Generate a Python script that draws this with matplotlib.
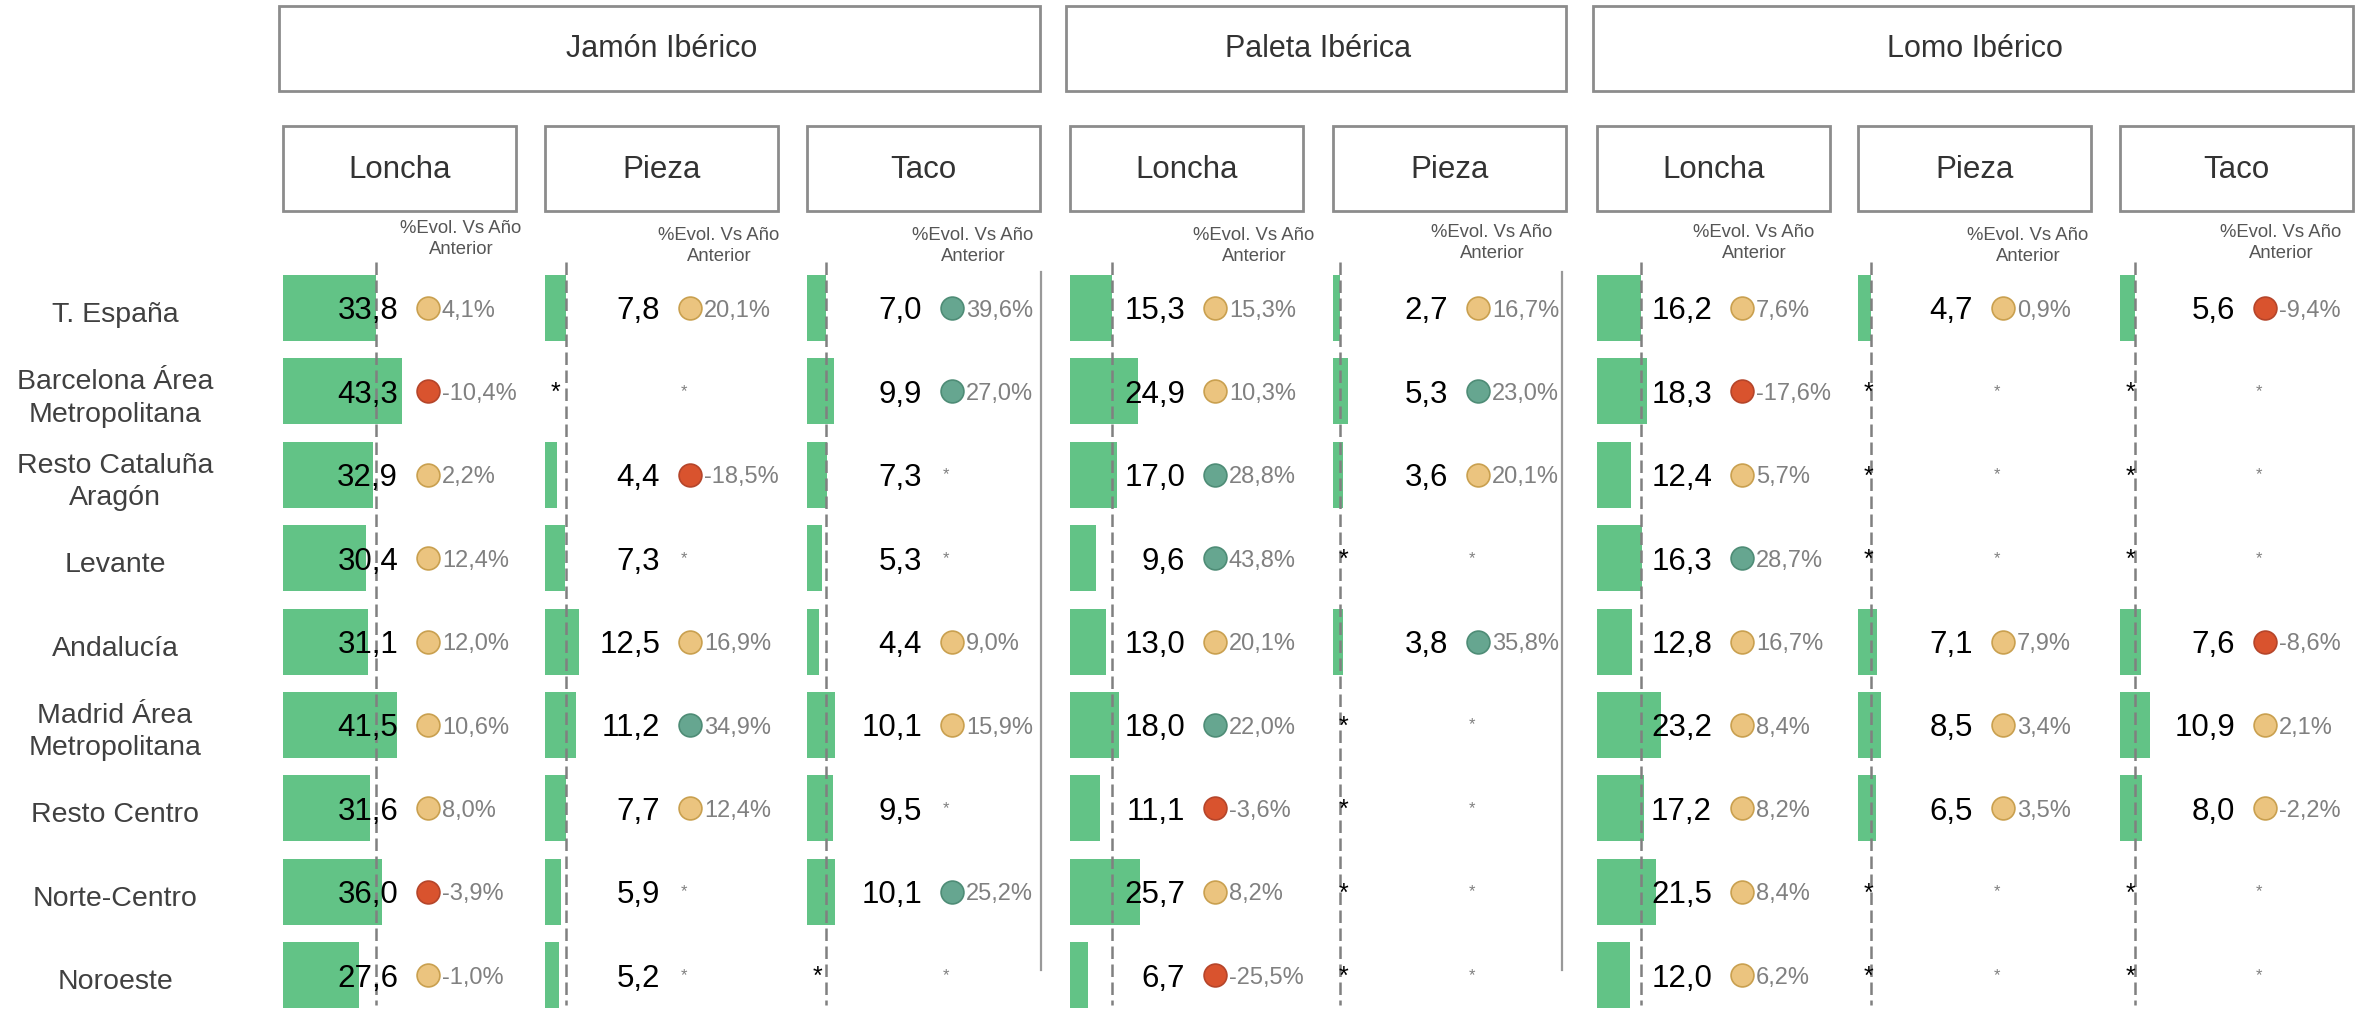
import matplotlib
matplotlib.use('Agg')
import matplotlib.pyplot as plt
from matplotlib.patches import Rectangle

plt.rcParams['font.family'] = ['Liberation Sans', 'DejaVu Sans']

# ---- datos ----
regiones = ['T. España', 'Barcelona Área\nMetropolitana', 'Resto Cataluña\nAragón',
            'Levante', 'Andalucía', 'Madrid Área\nMetropolitana', 'Resto Centro',
            'Norte-Centro', 'Noroeste']

productos = ['Jamón Ibérico', 'Paleta Ibérica', 'Lomo Ibérico']
formatos = [['Loncha', 'Pieza', 'Taco'], ['Loncha', 'Pieza'], ['Loncha', 'Pieza', 'Taco']]

N = None  # sin dato (*)
jamon_loncha = [33.8, 43.3, 32.9, 30.4, 31.1, 41.5, 31.6, 36.0, 27.6]
jamon_loncha_evol = [4.1, -10.4, 2.2, 12.4, 12.0, 10.6, 8.0, -3.9, -1.0]
jamon_pieza = [7.8, N, 4.4, 7.3, 12.5, 11.2, 7.7, 5.9, 5.2]
jamon_pieza_evol = [20.1, N, -18.5, N, 16.9, 34.9, 12.4, N, N]
jamon_taco = [7.0, 9.9, 7.3, 5.3, 4.4, 10.1, 9.5, 10.1, N]
jamon_taco_evol = [39.6, 27.0, N, N, 9.0, 15.9, N, 25.2, N]
paleta_loncha = [15.3, 24.9, 17.0, 9.6, 13.0, 18.0, 11.1, 25.7, 6.7]
paleta_loncha_evol = [15.3, 10.3, 28.8, 43.8, 20.1, 22.0, -3.6, 8.2, -25.5]
paleta_pieza = [2.7, 5.3, 3.6, N, 3.8, N, N, N, N]
paleta_pieza_evol = [16.7, 23.0, 20.1, N, 35.8, N, N, N, N]
lomo_loncha = [16.2, 18.3, 12.4, 16.3, 12.8, 23.2, 17.2, 21.5, 12.0]
lomo_loncha_evol = [7.6, -17.6, 5.7, 28.7, 16.7, 8.4, 8.2, 8.4, 6.2]
lomo_pieza = [4.7, N, N, N, 7.1, 8.5, 6.5, N, N]
lomo_pieza_evol = [0.9, N, N, N, 7.9, 3.4, 3.5, N, N]
lomo_taco = [5.6, N, N, N, 7.6, 10.9, 8.0, N, N]
lomo_taco_evol = [-9.4, N, N, N, -8.6, 2.1, -2.2, N, N]

columnas = [(jamon_loncha, jamon_loncha_evol), (jamon_pieza, jamon_pieza_evol),
            (jamon_taco, jamon_taco_evol), (paleta_loncha, paleta_loncha_evol),
            (paleta_pieza, paleta_pieza_evol), (lomo_loncha, lomo_loncha_evol),
            (lomo_pieza, lomo_pieza_evol), (lomo_taco, lomo_taco_evol)]

# ---- layout (pixeles) ----
W, H = 2369, 1018
col_left = [283, 545, 807, 1070, 1333, 1597, 1858, 2120]
col_w = 233
px_por_unidad = 2.74
row0, row_h = 308, 83.4
head_dx = [178, 174, 166, 184, 159, 157, 170, 161]
head_y = [239, 246, 246, 246, 243, 243, 246, 243]
sep_x = [1041, 1562]

VERDE = '#62c386'
GRIS = '#808080'
TEXTO = '#404040'


def color_evol(p):
    if p < -3:
        return '#d9532e', '#b5452a'
    if p > 21:
        return '#66a690', '#4e8c76'
    return '#ebc47f', '#c9a04f'


def fmt(v, suf=''):
    return f'{v:.1f}{suf}'.replace('.', ',')


fig = plt.figure(figsize=(W / 100, H / 100), dpi=100)
ax0 = fig.add_axes([0, 0, 1, 1])
ax0.set_xlim(0, W)
ax0.set_ylim(H, 0)
ax0.axis('off')

# cajas de cabecera
k = 0
for prod, fmts in zip(productos, formatos):
    x0 = col_left[k]
    x1 = col_left[k + len(fmts) - 1] + col_w
    ax0.add_patch(Rectangle((x0 - 4, 6), x1 - x0 + 4, 85, fill=False, ec='#8c8c8c', lw=2))
    ax0.text((x0 + x1) / 2, 49, prod, ha='center', va='center', fontsize=22, color='#333333')
    for f in fmts:
        xl = col_left[k]
        ax0.add_patch(Rectangle((xl, 126), col_w, 85, fill=False, ec='#8c8c8c', lw=2))
        ax0.text(xl + col_w / 2, 170, f, ha='center', va='center', fontsize=22.5, color='#333333')
        ax0.text(xl + head_dx[k], head_y[k], '%Evol. Vs Año\nAnterior', ha='center', va='center',
                 fontsize=13.3, color='#555555', linespacing=1.3)
        k += 1

for i, reg in enumerate(regiones):
    ax0.text(115, row0 + i * row_h + 7, reg, ha='center', va='center', fontsize=20.5,
             color=TEXTO, linespacing=1.32)

for sx in sep_x:
    ax0.plot([sx, sx], [272, 970], color='#999999', lw=1.6)

# columnas con barras
filas = list(range(len(regiones)))
for k, (vals, evol) in enumerate(columnas):
    ax = fig.add_axes([col_left[k] / W, 1 - (row0 + 8.5 * row_h) / H,
                       col_w / W, 9 * row_h / H])
    ax.set_xlim(0, col_w / px_por_unidad)
    ax.set_ylim(8.5, -0.5)
    ax.axis('off')
    ax.patch.set_alpha(0)
    tr = ax.get_yaxis_transform()

    ys = [i for i in filas if vals[i] is not None]
    ax.barh(ys, [vals[i] for i in ys], height=0.79, color=VERDE, zorder=1)
    ax.vlines(vals[0], -0.55, 8.36, colors=GRIS, lw=1.8, linestyles=(0, (5, 2.2)),
              zorder=2, clip_on=False)

    for i in filas:
        if vals[i] is None:
            ax.text(0.047, i + 0.02, '*', transform=tr, ha='center', va='center',
                    fontsize=18, color='black', zorder=3)
        else:
            ax.text(0.494, i + 0.04, fmt(vals[i]), transform=tr, ha='right', va='center',
                    fontsize=22.5, color='black', zorder=3)
        p = evol[i]
        if p is None:
            ax.text(0.597, i, '*', transform=tr, ha='center', va='center',
                    fontsize=12, color=GRIS, zorder=3)
        else:
            fc, ec = color_evol(p)
            ax.scatter([0.622], [i], s=270, transform=tr, color=fc, edgecolors=ec,
                       linewidths=1.2, zorder=3, clip_on=False)
            ax.text(0.682, i + 0.03, fmt(p, '%'), transform=tr, ha='left', va='center',
                    fontsize=17, color=GRIS, zorder=3)

fig.savefig('out.png', dpi=100)
